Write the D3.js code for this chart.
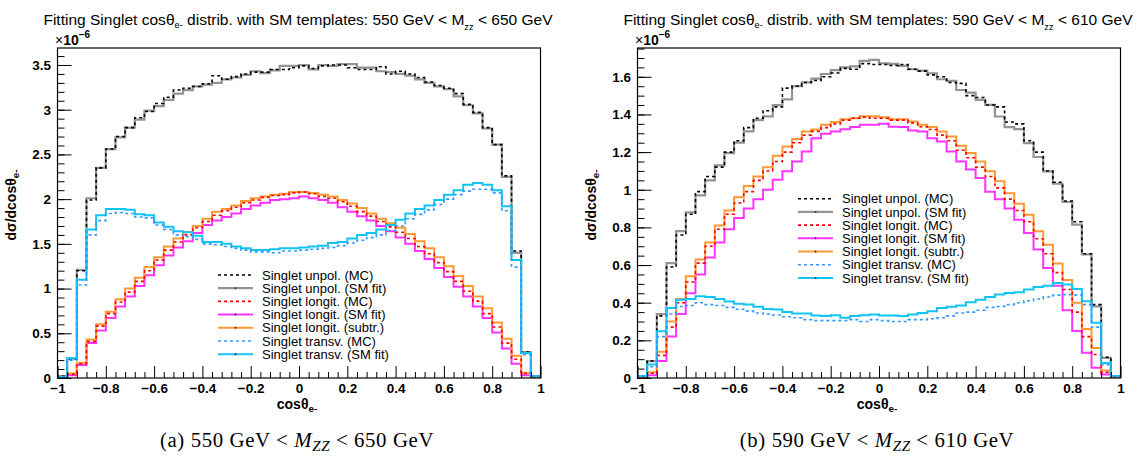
<!DOCTYPE html>
<html><head><meta charset="utf-8">
<script src="https://cdn.jsdelivr.net/npm/d3@7"></script>
<style>body{margin:0;background:#fff} svg{display:block}</style>
</head><body>
<svg id="c" width="1137" height="464"></svg>
<script>
// ---------- binning / ticks ----------
const nBins = 50, xLo = -1, xHi = 1;
const xTickVals = [-1,-0.8,-0.6,-0.4,-0.2,0,0.2,0.4,0.6,0.8,1];
const xTickLabels = ["\u22121","\u22120.8","\u22120.6","\u22120.4","\u22120.2","0","0.2","0.4","0.6","0.8","1"];
const yTicksA = [0,0.5,1,1.5,2,2.5,3,3.5];
const yTickLabelsA = ["0","0.5","1","1.5","2","2.5","3","3.5"];
const yTicksB = [0,0.2,0.4,0.6,0.8,1,1.2,1.4,1.6];
const yTickLabelsB = ["0","0.2","0.4","0.6","0.8","1","1.2","1.4","1.6"];
const legendLabels = ["Singlet unpol. (MC)","Singlet unpol. (SM fit)","Singlet longit. (MC)","Singlet longit. (SM fit)","Singlet longit. (subtr.)","Singlet transv. (MC)","Singlet transv. (SM fit)"];

// ---------- panel (a): 550 < Mzz < 650 GeV (units 1e-6) ----------
const A_unpolMC = [0.02,0.21,1.20,1.99,2.35,2.56,2.70,2.80,2.91,2.98,3.07,3.14,3.22,3.24,3.26,3.29,3.38,3.34,3.37,3.40,3.42,3.42,3.45,3.45,3.47,3.49,3.46,3.49,3.50,3.50,3.47,3.45,3.45,3.48,3.40,3.43,3.40,3.36,3.31,3.27,3.24,3.18,3.06,2.97,2.80,2.61,2.26,1.42,0.29,0.02];
const A_unpolFit = [0.02,0.22,1.21,2.01,2.35,2.56,2.69,2.80,2.89,2.99,3.04,3.11,3.18,3.22,3.26,3.28,3.30,3.34,3.36,3.39,3.43,3.41,3.44,3.49,3.49,3.50,3.45,3.50,3.49,3.51,3.51,3.47,3.47,3.43,3.42,3.40,3.38,3.34,3.30,3.26,3.23,3.15,3.05,2.96,2.79,2.61,2.25,1.40,0.29,0.02];
const A_longMC = [0.01,0.04,0.16,0.41,0.58,0.72,0.85,0.96,1.08,1.20,1.32,1.43,1.52,1.60,1.68,1.75,1.82,1.87,1.91,1.96,1.99,2.02,2.04,2.05,2.07,2.08,2.06,2.03,2.01,1.97,1.92,1.86,1.81,1.75,1.69,1.63,1.56,1.47,1.39,1.29,1.19,1.08,0.97,0.86,0.72,0.57,0.39,0.21,0.05,0.01];
const A_longFit = [0.01,0.03,0.145,0.39,0.53,0.67,0.80,0.91,1.03,1.15,1.26,1.37,1.46,1.53,1.62,1.71,1.76,1.80,1.84,1.89,1.93,1.96,1.99,2.00,2.01,2.03,2.01,1.99,1.96,1.91,1.86,1.81,1.76,1.70,1.64,1.57,1.50,1.42,1.33,1.23,1.13,1.02,0.91,0.80,0.67,0.51,0.33,0.16,0.03,0.01];
const A_longSub = [0.01,0.05,0.17,0.43,0.60,0.74,0.88,1.00,1.12,1.24,1.35,1.47,1.56,1.63,1.70,1.78,1.86,1.89,1.93,1.98,2.01,2.03,2.05,2.06,2.08,2.08,2.07,2.05,2.03,1.99,1.95,1.90,1.84,1.78,1.73,1.68,1.61,1.53,1.45,1.35,1.25,1.14,1.03,0.91,0.78,0.62,0.44,0.25,0.06,0.01];
const A_transMC = [0.01,0.20,1.04,1.60,1.76,1.84,1.85,1.84,1.80,1.79,1.71,1.66,1.60,1.58,1.55,1.50,1.49,1.47,1.45,1.43,1.41,1.41,1.40,1.42,1.42,1.43,1.44,1.45,1.46,1.48,1.51,1.54,1.57,1.60,1.65,1.70,1.78,1.83,1.88,1.94,2.00,2.05,2.09,2.11,2.11,2.07,1.87,1.24,0.26,0.02];
const A_transFit = [0.01,0.22,1.10,1.66,1.82,1.89,1.89,1.88,1.83,1.82,1.74,1.69,1.64,1.63,1.59,1.52,1.52,1.50,1.47,1.45,1.43,1.43,1.44,1.45,1.45,1.46,1.47,1.48,1.51,1.52,1.56,1.60,1.62,1.66,1.71,1.77,1.84,1.89,1.93,1.99,2.05,2.10,2.16,2.18,2.16,2.10,1.92,1.32,0.28,0.02];

// ---------- panel (b): 590 < Mzz < 610 GeV (units 1e-6) ----------
const B_unpolMC = [0.01,0.09,0.33,0.59,0.76,0.87,0.99,1.07,1.12,1.20,1.26,1.33,1.38,1.42,1.44,1.54,1.55,1.57,1.58,1.60,1.62,1.645,1.64,1.67,1.665,1.665,1.66,1.665,1.64,1.63,1.61,1.60,1.57,1.565,1.50,1.49,1.45,1.44,1.36,1.35,1.26,1.20,1.10,1.04,0.94,0.83,0.66,0.39,0.11,0.01];
const B_unpolFit = [0.01,0.09,0.34,0.61,0.78,0.88,0.97,1.05,1.13,1.195,1.25,1.31,1.37,1.39,1.45,1.48,1.55,1.57,1.59,1.615,1.635,1.65,1.655,1.685,1.69,1.672,1.669,1.658,1.64,1.633,1.619,1.587,1.578,1.53,1.516,1.477,1.451,1.389,1.333,1.322,1.248,1.174,1.098,1.032,0.935,0.815,0.656,0.381,0.107,0.01];
const B_longMC = [0.005,0.025,0.12,0.27,0.40,0.51,0.61,0.70,0.79,0.87,0.93,0.99,1.05,1.10,1.15,1.20,1.25,1.29,1.31,1.33,1.35,1.37,1.38,1.385,1.38,1.38,1.37,1.37,1.355,1.335,1.32,1.29,1.26,1.21,1.17,1.12,1.07,1.01,0.95,0.89,0.83,0.74,0.66,0.56,0.47,0.35,0.22,0.125,0.03,0.005];
const B_longFit = [0.003,0.015,0.09,0.22,0.34,0.45,0.55,0.64,0.72,0.79,0.85,0.90,0.95,1.00,1.053,1.098,1.15,1.203,1.274,1.297,1.31,1.322,1.333,1.345,1.345,1.35,1.335,1.333,1.315,1.31,1.274,1.256,1.203,1.15,1.107,1.062,0.99,0.95,0.90,0.841,0.77,0.682,0.584,0.49,0.36,0.25,0.134,0.054,0.018,0.0];
const B_longSub = [0.005,0.03,0.14,0.30,0.42,0.54,0.63,0.72,0.81,0.89,0.96,1.02,1.07,1.12,1.18,1.23,1.27,1.31,1.32,1.345,1.36,1.375,1.38,1.39,1.39,1.385,1.375,1.375,1.363,1.345,1.333,1.31,1.283,1.234,1.195,1.15,1.098,1.045,0.982,0.926,0.867,0.779,0.708,0.608,0.52,0.40,0.26,0.16,0.04,0.005];
const B_transMC = [0.01,0.06,0.22,0.34,0.38,0.385,0.40,0.39,0.385,0.375,0.365,0.355,0.345,0.34,0.335,0.325,0.32,0.31,0.305,0.305,0.305,0.305,0.31,0.30,0.31,0.305,0.30,0.30,0.31,0.31,0.315,0.32,0.33,0.345,0.35,0.36,0.375,0.38,0.39,0.40,0.41,0.42,0.43,0.44,0.443,0.44,0.39,0.27,0.07,0.01];
const B_transFit = [0.01,0.072,0.249,0.372,0.416,0.42,0.434,0.43,0.42,0.407,0.395,0.39,0.378,0.367,0.364,0.35,0.343,0.343,0.332,0.329,0.334,0.32,0.329,0.334,0.337,0.332,0.332,0.329,0.337,0.345,0.354,0.372,0.378,0.385,0.402,0.416,0.43,0.443,0.452,0.455,0.47,0.484,0.49,0.505,0.497,0.473,0.408,0.293,0.08,0.01];

// ---------- styles ----------
const styles = [
  {color:"#000000", dash:"3,3", w:1.6, dot:false},  // unpol MC
  {color:"#939393", dash:null,  w:2.2, dot:true},   // unpol fit
  {color:"#ff0000", dash:"3,3", w:1.6, dot:false},  // long MC
  {color:"#ff33ff", dash:null,  w:2,   dot:true},   // long fit
  {color:"#ff9933", dash:null,  w:2,   dot:true},   // long subtr
  {color:"#3399ff", dash:"3,3", w:1.6, dot:false},  // trans MC
  {color:"#11c4f4", dash:null,  w:2,   dot:true}    // trans fit
];
const drawOrder = [1,0,3,4,2,6,5];

const svg = d3.select("#c");
const FONT = "'Liberation Sans', Arial, Helvetica, sans-serif";
const binEdges = d3.range(nBins + 1).map(i => xLo + (xHi - xLo) * i / nBins);

function fitWidth(textSel, target) {
  const w = textSel.node().getBBox().width;
  const fs = parseFloat(textSel.attr("font-size"));
  textSel.attr("font-size", fs * target / w);
}

function panel(cfg) {
  const off = cfg.off;
  const L = 57.5 + off, R = 540.5 + off, T = 48, B = 378;
  const x = d3.scaleLinear().domain([xLo, xHi]).range([L, R]);
  const y = d3.scaleLinear().domain([0, cfg.yMax]).range([B, T]);
  const g = svg.append("g");

  const clipId = "clip" + off;
  svg.append("clipPath").attr("id", clipId).append("rect")
    .attr("x", L).attr("y", T).attr("width", R - L).attr("height", B - T);

  // histograms
  const line = d3.line().x(d => x(d[0])).y(d => y(d[1])).curve(d3.curveStepAfter);
  const hg = g.append("g").attr("clip-path", `url(#${clipId})`);
  drawOrder.forEach(k => {
    const vals = cfg.series[k];
    const pts = [[binEdges[0], 0]];
    vals.forEach((v, i) => pts.push([binEdges[i], v]));
    pts.push([binEdges[nBins], vals[nBins - 1]]);
    pts.push([binEdges[nBins], 0]);
    const st = styles[k];
    hg.append("path").attr("d", line(pts)).attr("fill", "none")
      .attr("stroke", st.color).attr("stroke-width", st.w)
      .attr("stroke-dasharray", st.dash);
  });

  // axes
  const styleAxis = a => {
    a.select(".domain").remove();
    a.selectAll("line").attr("stroke", "#000").attr("stroke-width", 1);
    a.selectAll("text").attr("fill", "#000").attr("font-family", FONT)
      .attr("font-size", 13.5).attr("font-weight", "bold");
  };
  const minorX = d3.range(0, 51).map(i => -1 + i * 0.04).filter(v => Math.abs(v * 5 - Math.round(v * 5)) > 1e-6);
  g.append("g").attr("transform", `translate(0,${B})`)
    .call(d3.axisBottom(x).tickValues(minorX).tickFormat("").tickSize(-6).tickSizeOuter(0)).call(styleAxis);
  g.append("g").attr("transform", `translate(0,${B})`)
    .call(d3.axisBottom(x).tickValues(xTickVals).tickFormat((d, i) => xTickLabels[i]).tickSize(-12).tickSizeOuter(0).tickPadding(5)).call(styleAxis);

  const minorY = d3.range(0, Math.floor(cfg.yMax / cfg.yMinor + 1e-6) + 1).map(i => i * cfg.yMinor);
  g.append("g").attr("transform", `translate(${L},0)`)
    .call(d3.axisLeft(y).tickValues(minorY).tickFormat("").tickSize(-7).tickSizeOuter(0)).call(styleAxis);
  g.append("g").attr("transform", `translate(${L},0)`)
    .call(d3.axisLeft(y).tickValues(cfg.yTicks).tickFormat((d, i) => cfg.yTickLabels[i]).tickSize(-14).tickSizeOuter(0).tickPadding(6.5)).call(styleAxis);

  // frame
  g.append("rect").attr("x", L).attr("y", T).attr("width", R - L).attr("height", B - T)
    .attr("fill", "none").attr("stroke", "#000").attr("stroke-width", 1.2);

  // x10^-6
  const ex = g.append("text").attr("x", 55 + off).attr("y", 45).attr("font-family", FONT).attr("font-size", 14).attr("fill", "#000");
  ex.append("tspan").text("\u00d7");
  ex.append("tspan").attr("font-weight", "bold").text("10");
  ex.append("tspan").attr("font-weight", "bold").attr("font-size", 10).attr("dy", -7).text("\u22126");

  // title
  const t = g.append("text").attr("x", 298 + off).attr("y", 25).attr("text-anchor", "middle")
    .attr("font-family", FONT).attr("font-size", 14).attr("fill", "#000");
  t.append("tspan").text("Fitting Singlet cos\u03b8");
  t.append("tspan").attr("font-size", "0.6em").attr("dy", "0.35em").text("e-");
  t.append("tspan").attr("dy", "-0.21em").text(" distrib. with SM templates: " + cfg.lo + " GeV < M");
  t.append("tspan").attr("font-size", "0.6em").attr("dy", "0.55em").text("zz");
  t.append("tspan").attr("dy", "-0.33em").text(" < " + cfg.hi + " GeV");
  fitWidth(t, 510);

  // axis titles
  const xt = g.append("text").attr("x", 297 + off).attr("y", 409).attr("text-anchor", "middle")
    .attr("font-family", FONT).attr("font-size", 14).attr("font-weight", "bold").attr("fill", "#000");
  xt.append("tspan").text("cos\u03b8");
  xt.append("tspan").attr("font-size", "0.7em").attr("dy", "0.3em").text("e-");

  const yt = g.append("text").attr("transform", `translate(${16 + off},205) rotate(-90)`).attr("text-anchor", "middle")
    .attr("font-family", FONT).attr("font-size", 14).attr("font-weight", "bold").attr("fill", "#000");
  yt.append("tspan").text("d\u03c3/dcos\u03b8");
  yt.append("tspan").attr("font-size", "0.7em").attr("dy", "0.3em").text("e-");

  // legend
  const lg = g.append("g");
  legendLabels.forEach((lab, k) => {
    const yy = cfg.legY + 13.2 * k;
    const st = styles[k];
    lg.append("line").attr("x1", 218 + off).attr("x2", 253 + off).attr("y1", yy).attr("y2", yy)
      .attr("stroke", st.color).attr("stroke-width", st.w).attr("stroke-dasharray", st.dash);
    if (st.dot) lg.append("circle").attr("cx", 235.5 + off).attr("cy", yy).attr("r", 1).attr("fill", "#333");
    lg.append("text").attr("x", 262 + off).attr("y", yy + 4.6).attr("font-family", FONT).attr("font-size", 13)
      .attr("fill", "#000").text(lab);
  });

  // caption
  const cap = g.append("text").attr("x", 297 + off).attr("y", 447).attr("text-anchor", "middle")
    .attr("font-family", "'Liberation Serif', 'DejaVu Serif', serif").attr("font-size", 17)
    .attr("letter-spacing", 0.6).attr("fill", "#000");
  cap.append("tspan").text(cfg.tag + " " + cfg.lo + " GeV < ");
  cap.append("tspan").attr("font-style", "italic").text("M");
  cap.append("tspan").attr("font-style", "italic").attr("font-size", "0.72em").attr("dy", "0.25em").text("ZZ");
  cap.append("tspan").attr("dy", "-0.18em").text(" < " + cfg.hi + " GeV");
  fitWidth(cap, 278);
}

panel({off: 0, yMax: 3.69, yTicks: yTicksA, yTickLabels: yTickLabelsA, yMinor: 0.1, legY: 275,
  lo: 550, hi: 650, tag: "(a)",
  series: [A_unpolMC, A_unpolFit, A_longMC, A_longFit, A_longSub, A_transMC, A_transFit]});
panel({off: 580, yMax: 1.753, yTicks: yTicksB, yTickLabels: yTickLabelsB, yMinor: 0.05, legY: 198.7,
  lo: 590, hi: 610, tag: "(b)",
  series: [B_unpolMC, B_unpolFit, B_longMC, B_longFit, B_longSub, B_transMC, B_transFit]});
</script>
</body></html>
